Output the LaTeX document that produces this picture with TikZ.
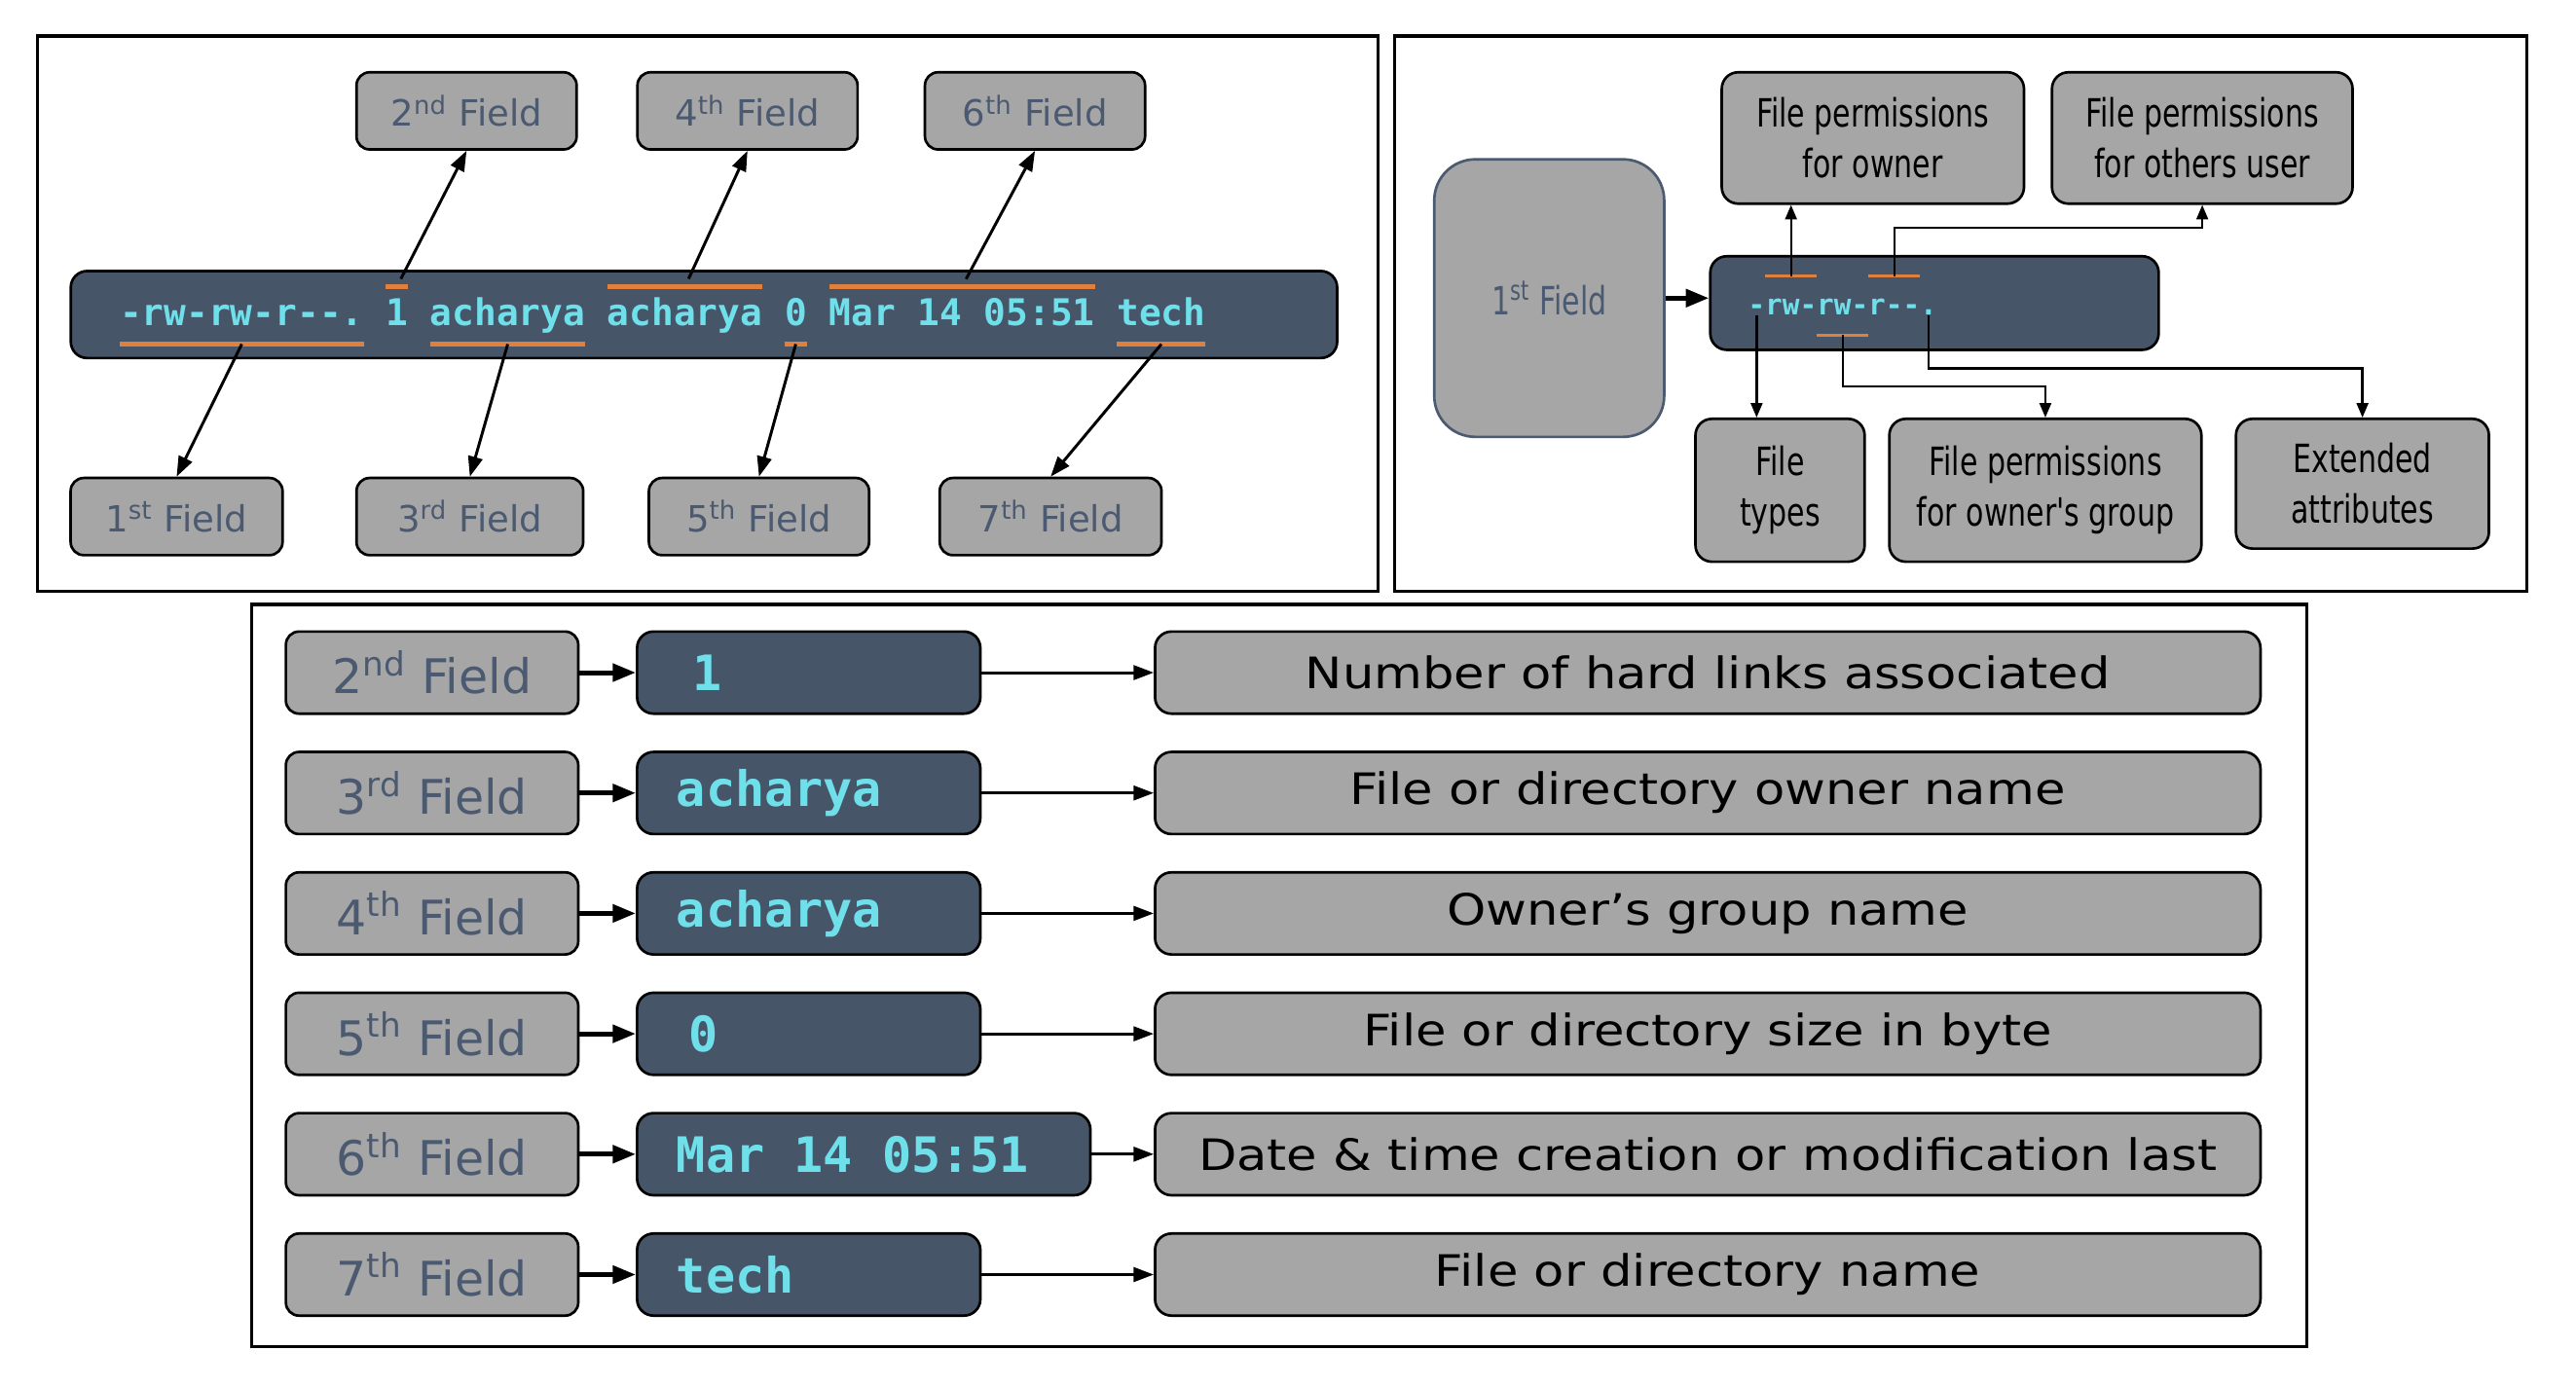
\documentclass[tikz,border=0pt]{standalone}
\usepackage{fontspec}
\setmainfont{DejaVu Sans}
\setmonofont{DejaVu Sans Mono}
\newfontfamily\wideface[FakeStretch=1.15]{DejaVu Sans}
\newfontfamily\narrowface[FakeStretch=0.75]{DejaVu Sans}
\usetikzlibrary{
  arrows.meta,
  calc,
  positioning,
}
\definecolor{boxgray}{HTML}{A6A6A6}
\definecolor{slate}{HTML}{475569}
\definecolor{slatetext}{HTML}{4B5A71}
\definecolor{termcyan}{HTML}{6FE0EA}
\definecolor{markorange}{HTML}{E0803E}
\newcommand{\monogap}{\hspace*{0.6021em}}
\tikzset{
  >={Triangle[length=7pt,width=5pt]},
  panel/.style={draw=black,line width=1.1pt},
  field/.style={draw=black,fill=boxgray,rounded corners=0.16cm,line width=0.9pt,
    text=slatetext,minimum height=0.94cm,inner sep=0pt},
  info/.style={draw=black,fill=boxgray,rounded corners=0.2cm,line width=0.9pt,
    align=center,inner sep=0pt},
  term/.style={draw=black,fill=slate,rounded corners=0.2cm,line width=0.9pt},
  tok/.style={text=termcyan,inner sep=0pt,outer sep=0pt,
    font=\ttfamily\bfseries\fontsize{12.75}{14}\selectfont,
    text height=0.47cm,text depth=0.23cm},
  stok/.style={text=termcyan,inner sep=0pt,outer sep=0pt,
    font=\ttfamily\bfseries\fontsize{9.9}{11}\selectfont,
    text height=0.48cm,text depth=0.24cm},
  uline/.style={draw=markorange,line width=1.4pt},
  smalluline/.style={draw=markorange,line width=1pt},
  link/.style={line width=1pt},
  thinlink/.style={line width=0.8pt,>={Triangle[length=5pt,width=4pt]}},
  thicklink/.style={line width=1.7pt,>={Triangle[length=8pt,width=6pt]}},
}

\begin{document}
\begin{tikzpicture}[x=0.02cm,y=-0.02cm]
  \useasboundingbox (0,0) rectangle (1568,844);
  \draw[panel] (23,22) rectangle (839,360);
  \draw[panel] (849,22) rectangle (1538,360);
  \draw[panel] (153,368) rectangle (1404,820);

  % ls line and its seven fields
  \node[term,minimum width=15.42cm,minimum height=1.06cm] (cmd) at (428.5,191.5) {};
  \node[tok,anchor=west] (t1) at (73,192) {-rw-rw-r--.};
  \node[tok,right=0.27cm of t1] (t2) {1};
  \node[tok,right=0.27cm of t2] (t3) {acharya};
  \node[tok,right=0.27cm of t3] (t4) {acharya};
  \node[tok,right=0.27cm of t4] (t5) {0};
  \node[tok,right=0.27cm of t5] (t6) {Mar 14 05:51};
  \node[tok,right=0.27cm of t6] (t7) {tech};
  \foreach \n/\x/\w/\s in {2/284/134/nd,4/455/134/th,6/630/134/th}
  {
    \node[field,font=\fontsize{12.5}{14}\selectfont,minimum width={\w*0.02cm}]
      (f\n) at (\x,67.5) {\n\textsuperscript{\s} Field};
    \draw[uline] (t\n.north west) -- (t\n.north east);
    \draw[->,link,shorten <=3pt] (t\n.north) -- (f\n.south);
  }
  \foreach \n/\x/\w/\s in {1/107.5/129/st,3/286/138/rd,5/462/134/th,7/639.5/135/th}
  {
    \node[field,font=\fontsize{12.5}{14}\selectfont,minimum width={\w*0.02cm}]
      (f\n) at (\x,314.5) {\n\textsuperscript{\s} Field};
    \draw[uline] (t\n.south west) -- (t\n.south east);
    \draw[->,link] (t\n.south) -- (f\n.north);
  }

  % first field in detail
  \node[draw=slatetext,fill=boxgray,rounded corners=0.5cm,line width=0.9pt,
    minimum width=2.8cm,minimum height=3.38cm,text=slatetext,
    font=\narrowface\fontsize{13.5}{16}\selectfont] (perm) at (943,181.5) {1\textsuperscript{st} Field};
  \node[term,minimum width=5.46cm,minimum height=1.14cm] (mode) at (1177.5,184.5) {};
  \node[stok,anchor=west] (ty) at (1064,186) {-};
  \node[stok,right=0pt of ty] (ow) {rw-};
  \node[stok,right=0pt of ow] (gr) {rw-};
  \node[stok,right=0pt of gr] (ot) {r--};
  \node[stok,right=0pt of ot] (at) {.};
  \draw[smalluline] (ow.north west) -- (ow.north east);
  \draw[smalluline] (gr.south west) -- (gr.south east);
  \draw[smalluline] (ot.north west) -- (ot.north east);
  \begin{scope}[font=\narrowface\fontsize{13.5}{17.6}\selectfont]
    \node[info,minimum width=3.68cm,minimum height=1.6cm] (own) at (1140,84) {File permissions\\for owner};
    \node[info,minimum width=3.66cm,minimum height=1.6cm] (oth) at (1340.5,84) {File permissions\\for others user};
    \node[info,minimum width=2.06cm,minimum height=1.74cm] (typ) at (1083.5,298.5) {File\\types};
    \node[info,minimum width=3.8cm,minimum height=1.74cm] (grp) at (1245,298.5) {File permissions\\for owner's group};
    \node[info,minimum width=3.08cm,minimum height=1.58cm] (ext) at (1438,294.5) {Extended\\attributes};
  \end{scope}
  \draw[->,thicklink] (perm.east) -- (perm.east -| mode.west);
  \draw[->,thinlink] (ow.north) -- (ow.north |- own.south);
  \draw[->,thinlink] (ot.north) |- ($(oth.south)+(0,14)$) -- (oth.south);
  \draw[->,thinlink] (ty.base) -- (ty.base |- typ.north);
  \draw[->,thinlink] (gr.south) |- ($(grp.north)+(0,-19)$) -- (grp.north);
  \draw[->,thinlink] (at.base) |- ($(ext.north)+(0,-30)$) -- (ext.north);

  % meaning of the other fields
  \foreach \i/\n/\s/\w/\v/\d in {
    1/2/nd/3.22cm/\hspace*{0.2cm}1/Number of hard links associated,
    2/3/rd/3.22cm/acharya/File or directory owner name,
    3/4/th/3.22cm/acharya/Owner’s group name,
    4/5/th/3.22cm/\hspace*{0.15cm}0/File or directory size in byte,
    5/6/th/4.56cm/Mar\monogap14\monogap05:51/Date \& time creation or modification last,
    6/7/th/3.22cm/tech/File or directory name}
  {
    \node[field,font=\fontsize{16.5}{18}\selectfont,minimum width=3.56cm,minimum height=1cm]
      (k\i) at (263,{409.5+73.3*(\i-1)}) {\n\textsuperscript{\s} Field};
    \node[term,anchor=west,minimum height=1cm,text width=\w,inner xsep=0.48cm,align=left,
      text=termcyan,font=\ttfamily\bfseries\fontsize{16.9}{18}\selectfont]
      (v\i) at (387,{409.5+73.3*(\i-1)}) {\mbox{\v}};
    \node[info,font=\wideface\fontsize{15}{18}\selectfont,minimum width=13.46cm,minimum height=1cm]
      (d\i) at (1039.5,{409.5+73.3*(\i-1)}) {\d};
    \draw[->,thicklink] (k\i) -- (v\i);
    \draw[->,link] (v\i) -- (d\i);
  }
\end{tikzpicture}
\end{document}
